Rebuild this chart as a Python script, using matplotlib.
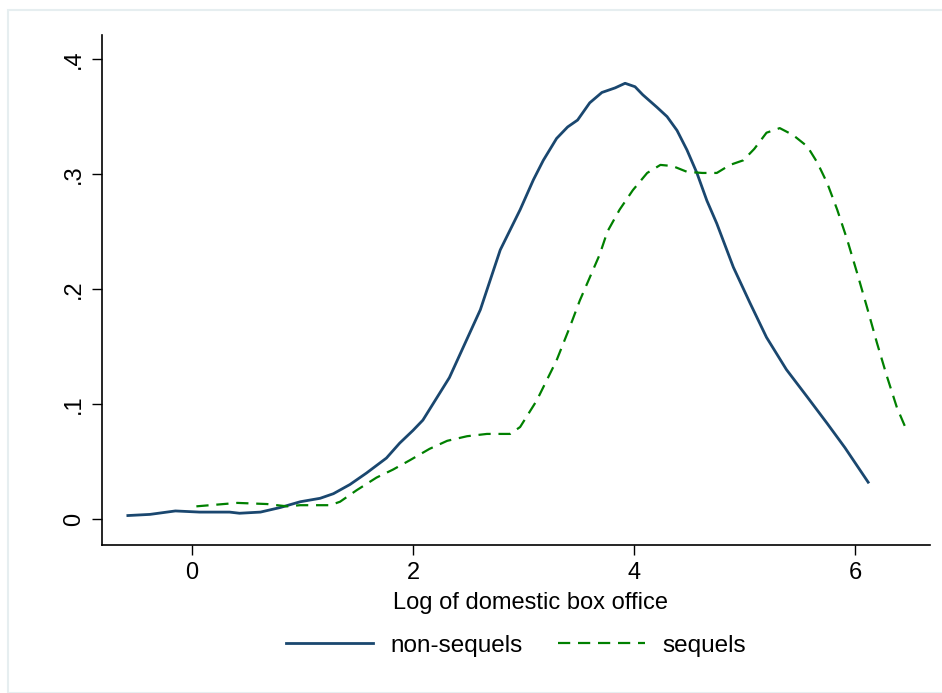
import matplotlib
matplotlib.use("Agg")
import matplotlib.pyplot as plt
from matplotlib.patches import Rectangle

# kernel density of log box office
nonseq_x = [-0.58, -0.38, -0.15, 0.07, 0.34, 0.43, 0.62, 0.80, 0.98, 1.16, 1.28, 1.43,
            1.58, 1.76, 1.88, 2.00, 2.09, 2.33, 2.61, 2.79, 2.97, 3.09, 3.18, 3.30,
            3.40, 3.49, 3.60, 3.71, 3.83, 3.92, 4.01, 4.08, 4.21, 4.30, 4.39, 4.48,
            4.57, 4.66, 4.75, 4.90, 5.05, 5.20, 5.38, 5.57, 5.75, 5.91, 6.12]
nonseq_y = [0.003, 0.004, 0.007, 0.006, 0.006, 0.005, 0.006, 0.010, 0.015, 0.018, 0.022, 0.030,
            0.040, 0.053, 0.066, 0.077, 0.086, 0.123, 0.182, 0.234, 0.269, 0.295, 0.312, 0.331,
            0.341, 0.347, 0.362, 0.371, 0.375, 0.379, 0.376, 0.369, 0.358, 0.350, 0.338, 0.321,
            0.301, 0.277, 0.257, 0.219, 0.188, 0.158, 0.130, 0.106, 0.083, 0.062, 0.032]

seq_x = [0.04, 0.41, 0.68, 0.86, 0.98, 1.25, 1.34, 1.49, 1.67, 1.82, 1.97, 2.15,
         2.31, 2.49, 2.67, 2.88, 2.97, 3.12, 3.30, 3.42, 3.51, 3.69, 3.76, 3.87,
         3.99, 4.12, 4.24, 4.35, 4.48, 4.62, 4.75, 4.87, 4.99, 5.09, 5.20, 5.32,
         5.44, 5.57, 5.66, 5.75, 5.84, 5.93, 6.02, 6.11, 6.20, 6.29, 6.38, 6.46]
seq_y = [0.011, 0.014, 0.013, 0.011, 0.012, 0.012, 0.015, 0.025, 0.036, 0.043, 0.051, 0.061,
         0.068, 0.072, 0.074, 0.074, 0.080, 0.103, 0.138, 0.167, 0.190, 0.230, 0.250, 0.269,
         0.286, 0.301, 0.308, 0.307, 0.302, 0.301, 0.301, 0.308, 0.312, 0.322, 0.336, 0.340,
         0.334, 0.324, 0.310, 0.292, 0.269, 0.243, 0.214, 0.184, 0.153, 0.124, 0.097, 0.079]

xticks = [0, 2, 4, 6]
yticks = [0, 0.1, 0.2, 0.3, 0.4]
ytick_labels = ["0", ".1", ".2", ".3", ".4"]

plt.rcParams["font.family"] = ["Liberation Sans", "DejaVu Sans"]

fig = plt.figure(figsize=(9.42, 6.93), dpi=100)
fig.patches.append(Rectangle((8 / 942, 0), 1, 1 - 10 / 693, transform=fig.transFigure,
                             fill=False, edgecolor="#e6eef0", linewidth=1.5))
ax = fig.add_axes([0.1083, 0.2136, 0.8790, 0.7359])

ax.plot(nonseq_x, nonseq_y, color="#1a476f", lw=2.0, solid_joinstyle="round",
        label="non-sequels")
ax.plot(seq_x, seq_y, color="#008000", lw=1.6, dashes=(5.5, 3.5), label="sequels")

ax.set_xlim(-0.814, 6.68)
ax.set_ylim(-0.0226, 0.421)
ax.set_xticks(xticks)
ax.set_yticks(yticks)
ax.set_yticklabels(ytick_labels, rotation=90, va="center")
ax.tick_params(direction="out", length=7, width=1, labelsize=17, pad=5)
for s in ["top", "right"]:
    ax.spines[s].set_visible(False)
for s in ["left", "bottom"]:
    ax.spines[s].set_linewidth(1.2)

ax.set_xlabel("Log of domestic box office", fontsize=17)
ax.xaxis.set_label_coords(0.517, -0.093)

ax.legend(loc="upper center", bbox_to_anchor=(0.5, -0.133), ncol=2, frameon=False,
          fontsize=17.5, handlelength=3.6, columnspacing=1.45, handletextpad=0.7)

fig.savefig("out.png", dpi=100)
